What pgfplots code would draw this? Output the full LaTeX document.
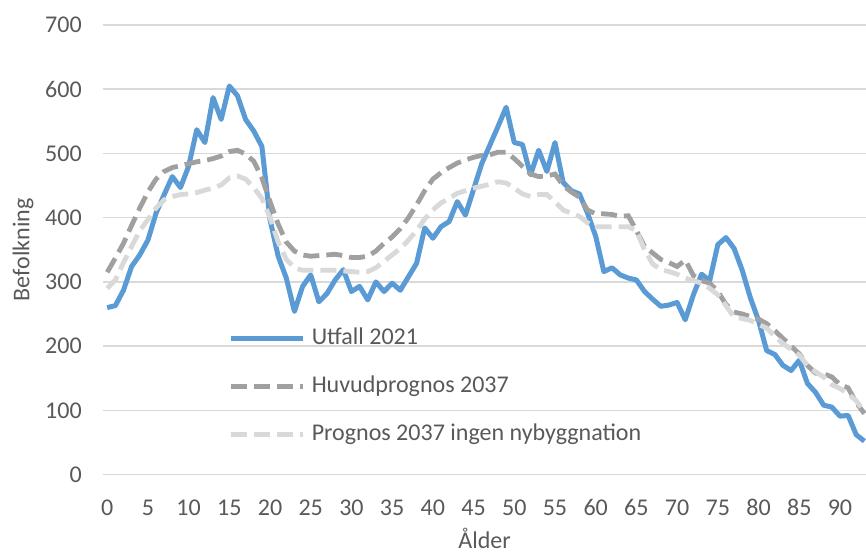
\documentclass[border=0pt,12pt]{standalone}
\usepackage{fontspec}
\setmainfont{Carlito}
\usepackage{pgfplots}
\usepackage{pgfplotstable}
\pgfplotsset{compat=1.18}
\definecolor{blueA}{HTML}{5B9BD5}
\definecolor{dgray}{HTML}{A0A0A0}
\definecolor{lgray}{HTML}{D9D9D9}
\definecolor{gridc}{HTML}{D9D9D9}
\definecolor{txt}{HTML}{595959}

\pgfplotstableread{
age utfall huvud ingen
0 260 315 290
1 263 337 303
2 287 360 330
3 324 388 355
4 342 415 380
5 365 440 397
6 407 460 415
7 436 472 428
8 464 478 433
9 447 481 436
10 480 484 437
11 537 487 439
12 517 489 443
13 587 492 446
14 553 496 451
15 605 503 462
16 590 505 465
17 553 499 460
18 535 488 447
19 511 462 430
20 397 425 400
21 340 390 362
22 306 362 335
23 254 348 322
24 293 342 318
25 311 340 318
26 269 341 318
27 282 342 318
28 303 343 318
29 319 341 317
30 285 338 316
31 293 338 315
32 272 340 316
33 300 348 322
34 285 360 332
35 298 370 342
36 287 383 352
37 308 400 365
38 329 420 380
39 384 442 398
40 368 460 412
41 386 470 423
42 394 478 430
43 425 485 438
44 404 490 442
45 444 494 446
46 484 497 449
47 513 498 452
48 542 502 456
49 572 502 454
50 517 492 446
51 514 480 437
52 467 468 433
53 505 464 436
54 472 465 436
55 517 468 425
56 455 450 412
57 442 440 407
58 437 432 402
59 407 412 392
60 371 406 386
61 316 406 386
62 322 405 386
63 311 402 386
64 306 403 386
65 303 380 380
66 285 355 350
67 273 345 328
68 262 335 319
69 264 330 316
70 268 324 312
71 241 334 306
72 280 310 302
73 312 302 298
74 302 298 290
75 358 285 280
76 369 265 263
77 352 253 245
78 318 250 243
79 275 246 240
80 240 242 234
81 193 235 228
82 187 224 215
83 170 212 204
84 162 200 195
85 178 188 186
86 142 170 170
87 128 158 160
88 108 157 152
89 105 152 140
90 91 140 134
91 92 135 126
92 62 112 115
93 52 95 97
}\data

\begin{document}
\begin{tikzpicture}
\begin{axis}[name=ax,
  scale only axis, width=381pt, height=224.5pt,
  xmin=-0.5, xmax=93.2, ymin=0, ymax=700,
  xtick={0,5,...,90}, ytick={0,100,...,700},
  axis line style={draw=none},
  tick style={draw=none},
  ymajorgrids, grid style={gridc, line width=0.8pt},
  /pgf/number format/assume math mode=true,
  ticklabel style={text=txt, font=\fontsize{12}{14}\selectfont},
  yticklabel style={anchor=east, inner sep=0pt, xshift=-10.5pt},
  xticklabel style={anchor=base, inner sep=0pt, yshift=-20.5pt},
  xlabel={Ålder}, ylabel={Befolkning},
  label style={text=txt, font=\fontsize{12}{14}\selectfont},
  xlabel style={at={(axis description cs:0.5,-0.164)}, anchor=base},
  ylabel style={at={(axis description cs:-0.105,0.5)}, anchor=center},
  legend style={at={(axis cs:14.87,230.7)}, anchor=north west, draw=none, fill=none,
    text=txt, font=\fontsize{12}{14}\selectfont, inner sep=0pt,
    nodes={text height=9pt, text depth=2.5pt, inner sep=0pt},
    row sep=12.5pt, column sep=3pt},
  legend cell align=left,
  legend image code/.code={\draw[#1] (0pt,0pt) -- (36pt,0pt);},
]
\addplot[blueA, line width=2.5pt, line join=round] table[x=age, y=utfall] {\data};
\addlegendentry{Utfall 2021}
\addplot[dgray, line width=2.4pt, dash pattern=on 8pt off 3.5pt] table[x=age, y=huvud] {\data};
\addlegendentry{Huvudprognos 2037}
\addplot[lgray, line width=2.4pt, dash pattern=on 8pt off 3.5pt] table[x=age, y=ingen] {\data};
\addlegendentry{Prognos 2037 ingen nybyggnation}
\end{axis}
\pgfresetboundingbox
\path ([xshift=-51.5pt,yshift=-39pt]ax.south west) rectangle ([yshift=12.5pt]ax.north east);
\end{tikzpicture}
\end{document}
